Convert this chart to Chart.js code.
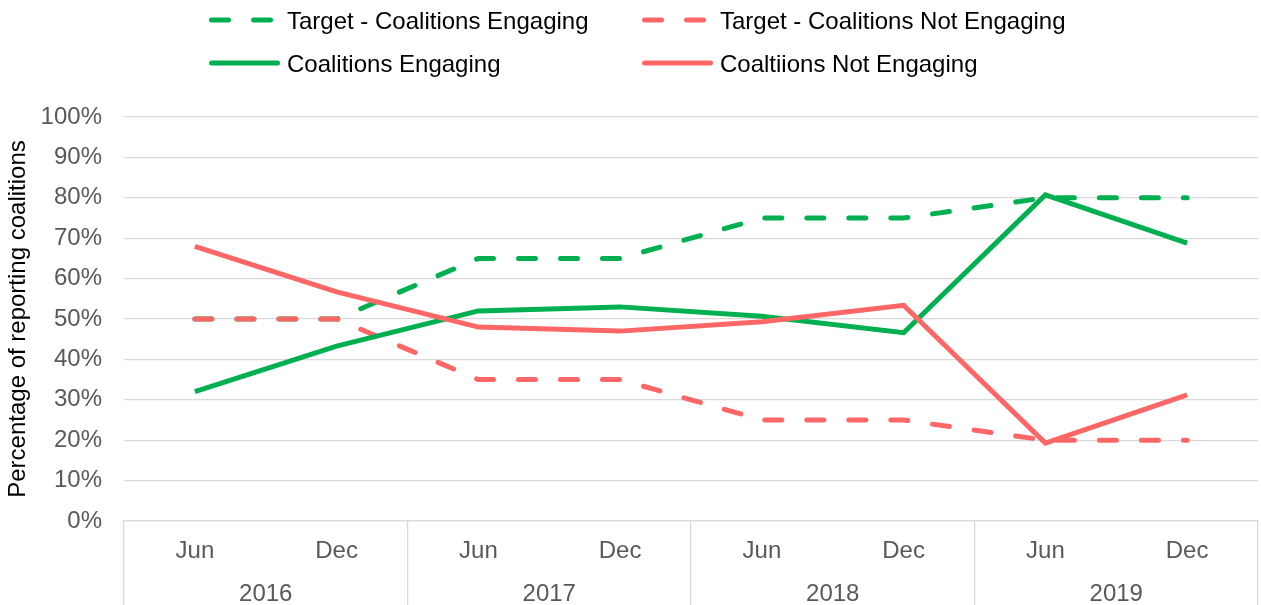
<!DOCTYPE html>
<html>
<head>
<meta charset="utf-8">
<script src="https://cdn.jsdelivr.net/npm/chart.js@4.4.1/dist/chart.umd.min.js"></script>
<style>
  html, body { margin: 0; padding: 0; background: #fff; }
  #wrap { width: 1261px; height: 605px; position: relative; }
</style>
</head>
<body>
<div id="wrap"><canvas id="chart"></canvas></div>
<script>
const periods = ["Jun", "Dec", "Jun", "Dec", "Jun", "Dec", "Jun", "Dec"];
const years = ["2016", "2017", "2018", "2019"];

const targetEngaging = [50, 50, 65, 65, 75, 75, 80, 80];
const targetNotEngaging = [50, 50, 35, 35, 25, 25, 20, 20];
const engaging = [32, 43.3, 52, 53, 50.7, 46.6, 80.7, 68.8];
const notEngaging = [68, 56.7, 48, 47, 49.3, 53.4, 19.3, 31.2];

const GREEN = "#00B050";
const RED = "#FF6666";
const FONT = "'Liberation Sans', Arial, sans-serif";
const FONT_SIZE = 24;
const GRID = "#d9d9d9";

// legend is laid out as a 2x2 grid, like the original
const gridLegend = {
  id: "gridLegend",
  afterDraw(chart) {
    const ctx = chart.ctx;
    const cols = [209, 642];
    const rows = [20, 63];
    const order = [3, 2, 1, 0]; // dataset indexes, row by row
    ctx.save();
    ctx.font = FONT_SIZE + "px " + FONT;
    ctx.textBaseline = "middle";
    order.forEach((idx, i) => {
      const ds = chart.data.datasets[idx];
      const x = cols[i % 2];
      const y = rows[Math.floor(i / 2)];
      ctx.strokeStyle = ds.borderColor;
      ctx.lineWidth = ds.borderWidth;
      ctx.lineCap = "round";
      ctx.setLineDash(ds.borderDash || []);
      ctx.beginPath();
      ctx.moveTo(x + 2.5, y);
      ctx.lineTo(x + 68.5, y);
      ctx.stroke();
      ctx.setLineDash([]);
      ctx.fillStyle = "#000";
      ctx.fillText(ds.label, x + 78, y + 2);
    });
    ctx.restore();
  }
};

new Chart(document.getElementById("chart"), {
  type: "line",
  data: {
    labels: periods,
    datasets: [
      { label: "Coaltiions Not Engaging", data: notEngaging, borderColor: RED, borderWidth: 5 },
      { label: "Coalitions Engaging", data: engaging, borderColor: GREEN, borderWidth: 5 },
      { label: "Target - Coalitions Not Engaging", data: targetNotEngaging, borderColor: RED, borderWidth: 5,
        borderDash: [17, 25], borderCapStyle: "round" },
      { label: "Target - Coalitions Engaging", data: targetEngaging, borderColor: GREEN, borderWidth: 5,
        borderDash: [17, 25], borderCapStyle: "round" }
    ]
  },
  options: {
    responsive: true,
    maintainAspectRatio: false,
    animation: false,
    layout: { padding: { top: 117, right: 3, left: 0, bottom: 0 } },
    elements: {
      point: { radius: 0, hoverRadius: 0 },
      line: { tension: 0, fill: false }
    },
    plugins: {
      legend: { display: false },
      tooltip: { enabled: false }
    },
    scales: {
      y: {
        min: 0,
        max: 100,
        afterFit: s => { s.width = 124; },
        ticks: {
          stepSize: 10,
          padding: 22,
          color: "#595959",
          font: { family: FONT, size: FONT_SIZE },
          callback: v => v + "%"
        },
        grid: { color: GRID, lineWidth: 1.3, drawTicks: false },
        border: { display: false },
        title: {
          display: true,
          text: "Percentage of reporting coalitions",
          color: "#000",
          font: { family: FONT, size: FONT_SIZE },
          padding: { top: 4, bottom: 0 }
        }
      },
      x: {
        weight: 0,
        offset: true,
        afterFit: s => { s.height = 40; },
        ticks: {
          padding: -74,
          color: "#595959",
          autoSkip: false,
          maxRotation: 0,
          font: { family: FONT, size: FONT_SIZE }
        },
        grid: {
          offset: true,
          drawOnChartArea: false,
          tickLength: 90,
          lineWidth: 1.3,
          color: c => (c.index === undefined || c.index % 2 === 0) ? GRID : "rgba(0,0,0,0)"
        },
        border: { display: true, color: GRID, width: 1.3 }
      },
      x2: {
        type: "category",
        position: "bottom",
        labels: years,
        offset: true,
        weight: 1,
        afterFit: s => { s.height = 44; },
        ticks: {
          padding: 19,
          color: "#595959",
          autoSkip: false,
          maxRotation: 0,
          font: { family: FONT, size: FONT_SIZE }
        },
        grid: { display: false, drawTicks: false },
        border: { display: false }
      }
    }
  },
  plugins: [gridLegend]
});
</script>
</body>
</html>
